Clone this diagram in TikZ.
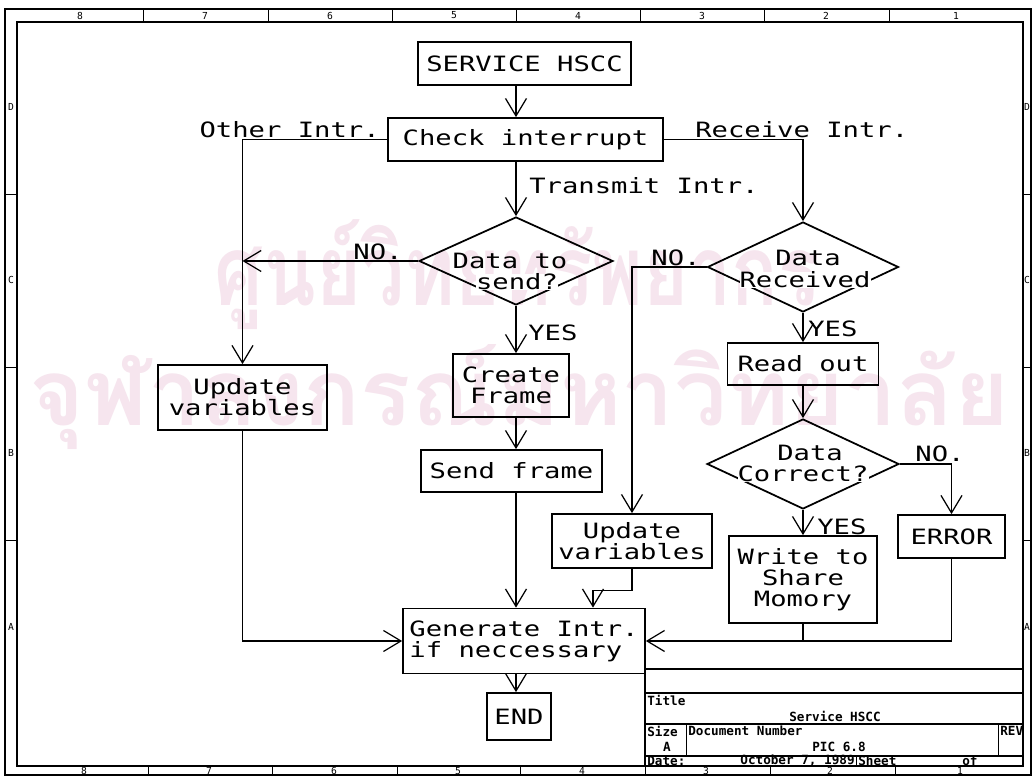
\documentclass[tikz,border=0pt]{standalone}
\usepackage{fontspec}
\usepackage{graphicx}
\usetikzlibrary{positioning}
\usetikzlibrary{shapes.geometric, arrows.meta, calc}
\newfontfamily\plotfont[FakeStretch=1.29]{DejaVu Sans Mono}
\newfontfamily\tblfont{DejaVu Sans Mono}
\newfontfamily\thaifont[Script=Thai]{Loma}
\definecolor{wmpink}{RGB}{246,229,238}
\tikzstyle{process} = [rectangle, 
draw=black, 
line width=1pt,
inner sep=0pt,
align=center,
font=\plotfont\fontsize{12}{12}\selectfont]
\tikzstyle{decision} = [diamond, 
draw=black, 
line width=1pt,
inner sep=0pt]
\tikzstyle{dtext} = [inner sep=0pt, font=\plotfont\fontsize{12}{12}\selectfont]
\tikzstyle{tag} = [inner sep=0pt, font=\plotfont\fontsize{12}{12}\selectfont]
\tikzstyle{tbl} = [inner sep=0pt, font=\tblfont\bfseries\fontsize{7.2}{8}\selectfont]
\tikzstyle{zone} = [inner sep=0pt, font=\tblfont\fontsize{5.5}{6}\selectfont]
\tikzstyle{wmark} = [inner sep=0pt, text=wmpink, font=\thaifont\bfseries]
\tikzstyle{frameline} = [line width=1pt]
\tikzstyle{link} = [line width=0.7pt]
\tikzstyle{arrow} = [line width=0.7pt,-{Straight Barb[length=0.35cm,width=0.42cm]}]

\begin{document}
\begin{tikzpicture}[x=0.02cm, y=-0.02cm]
            \useasboundingbox (0,0) rectangle (1032,776);
            \fill[white] (0,0) rectangle (1032,776);

            % watermark
            \node (wm1) [wmark] at (517,275) {\resizebox*{12.1cm}{2.2cm}{ศูนย์วิทยทรัพยากร}};
            \node (wm2) [wmark] at (519,397) {\resizebox*{19.6cm}{2.1cm}{จุฬาลงกรณ์มหาวิทยาลัย}};

            % drawing frame
            \draw[frameline] (5,9) rectangle (1031,775);
            \draw[frameline] (17,22) rectangle (1023,766);
            \foreach \x in {143,268,392,516,640,764,889}
                \draw (\x,9) -- (\x,22);
            \foreach \x in {148,272,397,520,645,770,895}
                \draw (\x,766) -- (\x,775);
            \foreach \y in {194,367,540} {
                \draw (5,\y) -- (17,\y);
                \draw (1023,\y) -- (1031,\y);
            }
            \foreach \x/\t in {80/8,205/7,330/6,454/5,578/4,702/3,826/2,956/1} {
                \node (top\t) [zone] at (\x,15.5) {\t};
                \node (bot\t) [zone] at (\x+4,771) {\t};
            }
            \foreach \y/\t in {107/D,280/C,453/B,627/A} {
                \node (left\t) [zone] at (11,\y) {\t};
                \node (right\t) [zone] at (1027,\y) {\t};
            }

            % title block
            \draw[frameline] (645,669) -- (1023,669);
            \draw[frameline] (645,693) -- (1023,693);
            \draw[frameline] (645,724) -- (1023,724);
            \draw[frameline] (645,756) -- (1023,756);
            \draw[frameline] (645,669) -- (645,766);
            \draw (686,724) -- (686,756);
            \draw (998,724) -- (998,756);
            \draw (856,756) -- (856,766);
            \node (ttitle) [tbl, anchor=west] at (647,700) {Title};
            \node (tname) [tbl] at (835,716) {Service HSCC};
            \node (tsize) [tbl, anchor=west] at (647,731) {Size};
            \node (tdocnr) [tbl, anchor=west] at (688,731) {Document Number};
            \node (trev) [tbl, anchor=west] at (1000,731) {REV};
            \node (tsizea) [tbl] at (667,747) {A};
            \node (tpic) [tbl] at (839,747) {PIC 6.8};
            \node (tdate) [tbl, anchor=west] at (647,761) {Date:};
            \node (tday) [tbl, anchor=east] at (855,761) {October  7, 1989};
            \node (tsheet) [tbl, anchor=west] at (858,761) {Sheet};
            \node (tof) [tbl, anchor=west] at (962,761) {of};

            % flowchart
            \node (start) [process, minimum width=4.26cm, minimum height=0.86cm] at (524.5,63.5) {SERVICE HSCC};
            \node (check) [process, minimum width=5.5cm, minimum height=0.86cm] at (525.5,139.5) {Check interrupt};
            \node (dsend) [decision, minimum width=3.88cm, minimum height=1.76cm] at (516,261) {};
            \node (drecv) [decision, minimum width=3.82cm, minimum height=1.8cm] at (803,267) {};
            \node (upd1) [process, minimum width=3.38cm, minimum height=1.3cm] at (242.5,397.5) {Update\\variables};
            \node (create) [process, minimum width=2.32cm, minimum height=1.26cm] at (511,385.5) {Create\\Frame};
            \node (sendf) [process, minimum width=3.62cm, minimum height=0.84cm] at (511.5,471) {Send frame};
            \node (readout) [process, minimum width=3.02cm, minimum height=0.84cm] at (803,364) {Read out};
            \node (dcorr) [decision, minimum width=3.84cm, minimum height=1.8cm] at (803,464) {};
            \node (upd2) [process, minimum width=3.2cm, minimum height=1.08cm] at (632,541) {Update\\variables};
            \node (write) [process, minimum width=2.96cm, minimum height=1.74cm] at (803,579.5) {Write to\\Share\\Momory};
            \node (error) [process, minimum width=2.14cm, minimum height=0.86cm] at (951.5,536.5) {ERROR};
            \node (gen) [process, align=left, minimum width=4.84cm, minimum height=1.3cm] at (524,641) {Generate Intr.\\if neccessary};
            \node (theend) [process, minimum width=1.28cm, minimum height=0.94cm] at (519,716.5) {END};

            \node (dsend1) [dtext] at ($(dsend)+(-6,0)$) {Data to};
            \node (dsend2) [dtext, fill=white] at ($(dsend)+(1,21)$) {send?};
            \node (drecv1) [dtext] at ($(drecv)+(5,-9)$) {Data};
            \node (drecv2) [dtext, fill=white] at ($(drecv)+(2,13)$) {Received};
            \node (dcorr1) [dtext] at ($(dcorr)+(7,-11)$) {Data};
            \node (dcorr2) [dtext, fill=white] at ($(dcorr)+(0,10)$) {Correct?};

            \node (lother) [tag, anchor=base east] at (380,138) {Other Intr.};
            \node (lrecv) [tag, anchor=base west] at (695,138) {Receive Intr.};
            \node (ltrans) [tag, anchor=west] at (529,186) {Transmit Intr.};
            \node (no1) [tag, anchor=base] at (378,260) {NO.};
            \node (no2) [tag, anchor=base] at (676,266) {NO.};
            \node (no3) [tag, anchor=base] at (940,462) {NO.};
            \node (yes1) [tag, anchor=west] at (528,333) {YES};
            \node (yes2) [tag, anchor=west] at (808,329) {YES};
            \node (yes3) [tag, anchor=west] at (817,527) {YES};

            \draw [arrow] (start.south -| dsend) -- (check.north -| dsend);
            \draw [arrow] (check.west) -| (upd1.north);
            \draw [arrow] (check.east) -| (drecv.north);
            \draw [arrow] (check.south -| dsend) -- (dsend.north);
            \draw [arrow] (dsend.west) -- (dsend.west -| upd1);
            \draw [arrow] (dsend.south) -- (dsend.south |- create.north);
            \draw [arrow] (create.south -| dsend) -- (sendf.north -| dsend);
            \draw [arrow] (sendf.south -| dsend) -- (gen.north -| dsend);
            \draw [arrow] (upd1.south) |- (gen.west);
            \draw [arrow] (drecv.west) -| (upd2.north);
            \draw [arrow] (upd2.south) -- ++(0,22) -| ($(gen.north)+(69,0)$);
            \draw [arrow] (drecv.south) -- (readout.north);
            \draw [arrow] (readout.south) -- (dcorr.north);
            \draw [arrow] (dcorr.south) -- (write.north);
            \draw [arrow] (dcorr.east) -| (error.north);
            \draw [arrow] (error.south) |- (gen.east);
            \draw [link] (write.south) -- (write.south |- gen.east);
            \draw [arrow] (gen.south -| dsend) -- (theend.north -| dsend);
        \end{tikzpicture}
\end{document}
